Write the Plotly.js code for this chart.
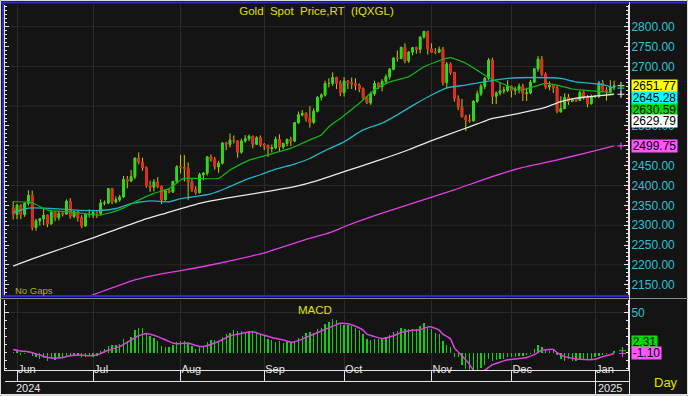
<!DOCTYPE html>
<html><head><meta charset="utf-8">
<script src="https://cdn.plot.ly/plotly-3.0.1.min.js"></script>
<style>html,body{margin:0;padding:0;background:#141414;overflow:hidden}</style>
</head><body><div id="chart" style="width:688px;height:396px"></div>
<script>
// ---------------- DATA ----------------
const firstDay = '2024-05-31', lastDay = '2025-01-08';
const monthNames = ['Jan','Feb','Mar','Apr','May','Jun','Jul','Aug','Sep','Oct','Nov','Dec'];

const open = [
2343,2327,2350,2327,2355,2375,2294,2311,2316,2325,
2303,2333,2319,2329,2328,2360,2322,2334,2319,2298,
2327,2326,2332,2330,2356,2356,2392,2359,2364,2371,
2415,2411,2422,2469,2459,2445,2400,2396,2409,2397,
2364,2387,2384,2410,2447,2446,2443,2409,2390,2382,
2427,2431,2472,2465,2447,2456,2507,2504,2514,2512,
2484,2512,2518,2524,2504,2520,2503,2500,2493,2495,
2516,2497,2506,2516,2512,2558,2578,2582,2569,2559,
2587,2622,2628,2657,2657,2672,2658,2634,2663,2659,
2656,2653,2644,2622,2608,2631,2657,2649,2662,2674,
2693,2721,2720,2748,2714,2736,2747,2743,2774,2788,
2744,2736,2736,2743,2659,2706,2685,2619,2598,2573,
2565,2563,2612,2631,2650,2670,2716,2625,2633,2638,
2640,2650,2640,2643,2650,2632,2633,2660,2694,2718,
2680,2648,2652,2646,2586,2594,2622,2612,2617,2614,
2634,2621,2606,2624,2625,2658,2640,2636,2648];
const high = [
2360,2354,2353,2358,2388,2387,2316,2318,2342,2327,
2336,2334,2336,2333,2365,2368,2336,2336,2325,2331,
2340,2339,2335,2365,2362,2393,2394,2372,2376,2424,
2424,2439,2469,2483,2470,2448,2412,2416,2421,2400,
2390,2392,2412,2451,2477,2477,2458,2419,2398,2432,
2434,2474,2478,2472,2462,2509,2510,2531,2526,2513,
2518,2527,2528,2525,2524,2526,2507,2503,2503,2523,
2529,2507,2518,2523,2560,2586,2590,2584,2600,2594,
2625,2632,2664,2670,2685,2674,2665,2673,2665,2672,
2670,2657,2647,2625,2636,2664,2660,2668,2680,2696,
2722,2740,2749,2758,2738,2749,2750,2775,2790,2790,
2758,2746,2750,2749,2711,2710,2686,2627,2618,2578,
2579,2615,2639,2656,2673,2721,2722,2637,2660,2649,
2665,2651,2649,2657,2656,2646,2666,2696,2726,2726,
2685,2662,2655,2653,2625,2632,2631,2620,2620,2639,
2638,2628,2629,2628,2663,2666,2648,2665,2664];
const low = [
2314,2315,2315,2321,2349,2287,2286,2299,2300,2295,
2302,2310,2312,2322,2327,2316,2318,2309,2293,2296,
2319,2318,2318,2324,2350,2353,2353,2355,2359,2369,
2393,2410,2416,2453,2437,2394,2384,2385,2393,2353,
2362,2380,2381,2405,2430,2410,2364,2384,2377,2380,
2413,2425,2460,2440,2432,2453,2489,2496,2506,2470,
2480,2508,2512,2494,2502,2497,2489,2472,2483,2491,
2485,2492,2499,2500,2509,2556,2574,2561,2546,2555,
2584,2614,2624,2647,2651,2643,2625,2624,2643,2643,
2640,2635,2615,2605,2603,2626,2643,2637,2656,2667,
2690,2712,2718,2708,2709,2728,2732,2733,2770,2730,
2734,2731,2734,2652,2644,2679,2611,2590,2572,2537,
2558,2561,2608,2625,2643,2666,2605,2605,2627,2631,
2635,2622,2628,2632,2613,2613,2630,2658,2687,2676,
2643,2640,2633,2582,2583,2592,2603,2610,2610,2613,
2616,2597,2604,2620,2620,2636,2614,2632,2640];
const close = [
2327,2350,2327,2355,2375,2294,2311,2316,2325,2303,
2333,2319,2329,2328,2360,2322,2334,2319,2298,2327,
2326,2332,2330,2356,2356,2392,2359,2364,2371,2415,
2411,2422,2469,2459,2445,2400,2396,2409,2397,2364,
2387,2384,2410,2447,2446,2443,2409,2390,2382,2427,
2431,2472,2465,2447,2456,2507,2504,2514,2512,2484,
2512,2518,2524,2504,2520,2503,2500,2493,2495,2516,
2497,2506,2516,2512,2558,2578,2582,2569,2559,2587,
2622,2628,2657,2657,2672,2658,2634,2663,2659,2656,
2653,2644,2622,2608,2631,2657,2649,2662,2674,2693,
2721,2720,2748,2714,2736,2747,2743,2774,2788,2744,
2736,2736,2743,2659,2706,2685,2619,2598,2573,2565,
2563,2612,2631,2650,2670,2716,2625,2633,2638,2640,
2650,2640,2643,2650,2632,2633,2660,2694,2718,2680,
2648,2652,2646,2586,2594,2622,2612,2617,2614,2634,
2621,2606,2624,2625,2658,2640,2636,2648,2651.77];

// moving averages (trading-day index, value)
const ma20Idx = [0,4,6,9,15,20,22,25,29,33,37,41,43,44,45,54,57,62,67,73,75,78,81,83,86,91,95,99,104,108,113,115,119,122,125,129,133,136,140,143,147,150,154,157,158];
const ma20 = [2359,2358,2352,2338,2333,2328,2325,2330,2343,2363,2380,2392,2406,2414,2418,2418,2439,2464,2477,2494,2502,2515,2527,2548,2569,2607,2641,2661,2674,2699,2718,2722,2708,2690,2672,2655,2640,2646,2657,2653,2643,2640,2637,2633,2630.59];
const ma50Idx = [0,4,8,12,18,23,27,31,36,41,44,47,52,56,61,65,69,74,78,82,87,92,97,101,106,110,114,119,123,130,137,144,148,155,158];
const ma50 = [2332,2343,2343,2341,2337,2337,2342,2354,2361,2359,2367,2371,2379,2393,2414,2427,2441,2454,2468,2488,2510,2540,2557,2578,2607,2628,2646,2653,2660,2670,2672,2670,2661,2654,2645.28];
const ma100Idx = [0,5,14,21,27,34,40,49,56,65,74,80,87,96,104,110,118,122,126,131,135,140,144,148,153,158];
const ma100 = [2197,2215,2245,2268,2289,2313,2330,2355,2368,2382,2397,2412,2435,2463,2490,2513,2541,2555,2569,2578,2586,2597,2611,2620,2625,2629.79];
const ma200Idx = [18,22,32,40,49,58,67,75,84,87,96,107,116,124,133,142,151,158];
const ma200 = [2114,2128,2162,2179,2194,2212,2233,2258,2284,2296,2327,2361,2389,2416,2443,2462,2483,2499.75];

// MACD (bars, one per trading day) and its signal line
const macd = [
1,2,-3,-2,1,-4,-6,-8,-7,-10,
-8,-9,-7,-8,-4,-3,-3,-4,-6,-5,
-4,-5,-4,2,4,8,10,9,11,17,
15,20,28,31,31,24,21,18,15,8,
7,7,10,13,14,15,12,8,5,8,
8,13,16,16,14,20,23,25,28,27,
27,25,27,27,24,22,21,17,16,13,
14,12,13,12,14,18,21,24,26,25,
29,31,36,38,42,41,36,35,34,33,
31,28,23,17.5,16,17,17,17.5,20,22,
26,27,31,30,30,29,29,33,37.5,31,
29,25,23,15,10,7.5,-6,-6,-15,-21,
-28,-30,-25,-19,-15,-8,-10,-9,-8,-7.5,
-6,-5.4,-5,-4,-4,-3,-2,4,9,7.5,
5,2,4,-3,-8,-10,-8,-10,-10,-9,
-8,-9,-7.5,-6,-4,-3,-2,0,2.31];
const sigIdx = [0,2,4,7,9,11,13,15,18,20,22,23,25,28,30,33,35,36,38,40,42,43,46,48,50,53,55,57,60,63,65,68,71,73,75,77,79,82,85,86,88,90,92,93,95,97,100,102,105,107,109,110,112,113,115,116,118,120,121,122,124,126,128,130,133,135,137,139,141,142,143,145,147,149,153,155,157,158];
const sig = [4,2,1,-3,-6,-7,-6,-4,-3,-4,-3,-1,3,7.5,13,21,24,23,20,16,12,11,12,9,7.5,12,16,21,24,26,23,19,15.8,13,15,19,23,29,35,36.6,36,33,28,23,20,17.5,21,25,28,28.6,32,32,28,23,17,6,-4,-15,-22,-26,-22,-15,-12,-9,-7.5,-6,-2.6,3,4,4,0,-5,-7,-8.4,-8.4,-5,-2.6,-1.1];
const macdLast = 2.31, sigLast = -1.10;

// price-axis labels visible in the reference (2600/2650 are hidden behind the value boxes)
const priceTicks = [2150,2200,2250,2300,2350,2400,2450,2500,2550,2700,2750,2800];
const priceGrid = [2200,2300,2400,2500,2600,2700,2800];

// ---------------- BUILD ----------------
function tradingDays(a,b){const out=[];const d=new Date(a+'T00:00:00Z');const e=new Date(b+'T00:00:00Z');
  while(d<=e){const w=d.getUTCDay();if(w!==0&&w!==6)out.push(d.toISOString().slice(0,10));d.setUTCDate(d.getUTCDate()+1);}return out;}
const dates = tradingDays(firstDay,lastDay);
const idx = dates.map((_,i)=>i);
const lastI = idx[idx.length-1];
const monthIdx=[], monthTxt=[];
dates.forEach((d,i)=>{ if(i>0 && d.slice(5,7)!==dates[i-1].slice(5,7)){monthIdx.push(i);monthTxt.push(monthNames[+d.slice(5,7)-1]);} });
const bodyHi = open.map((o,i)=>Math.max(o,close[i]));
const bodyLo = open.map((o,i)=>Math.min(o,close[i]));
const lastOf = a => a[a.length-1];

const W=688,H=396,ML=5,MR=60,MT=5,MB=26,PW=W-ML-MR,PH=H-MT-MB;
const px = x => (x-ML)/PW;
const py = y => (H-MB-y)/PH;
const FONT = 'Liberation Sans, Arial, sans-serif';
const BG='#141414', GRID='#2b2b2b', WHITE='#e6e6e6', BLUE='#2a2ad0';
const WICK='#c8c800', UP='#1ee01e', DOWN='#f02020';
const CG='#10b810', CC='#22b4c4', CW='#e8e8e8', CM='#e040e0', YEL='#e0e000';

const traces = [
 {type:'candlestick', x:idx, open:open, high:high, low:low, close:close, xaxis:'x', yaxis:'y',
  increasing:{line:{color:WICK,width:1},fillcolor:WICK}, decreasing:{line:{color:WICK,width:1},fillcolor:WICK},
  whiskerwidth:0, hoverinfo:'skip', showlegend:false},
 {type:'candlestick', x:idx, open:open, high:bodyHi, low:bodyLo, close:close, xaxis:'x', yaxis:'y',
  increasing:{line:{color:UP,width:1},fillcolor:UP}, decreasing:{line:{color:DOWN,width:1},fillcolor:DOWN},
  whiskerwidth:0, hoverinfo:'skip', showlegend:false},
 {type:'scatter', mode:'lines', x:ma200Idx, y:ma200, line:{color:CM,width:1.3,shape:'spline',smoothing:0.5}, hoverinfo:'skip', showlegend:false},
 {type:'scatter', mode:'lines', x:ma100Idx, y:ma100, line:{color:CW,width:1.3,shape:'spline',smoothing:0.5}, hoverinfo:'skip', showlegend:false},
 {type:'scatter', mode:'lines', x:ma50Idx, y:ma50, line:{color:CC,width:1.3,shape:'spline',smoothing:0.5}, hoverinfo:'skip', showlegend:false},
 {type:'scatter', mode:'lines', x:ma20Idx, y:ma20, line:{color:CG,width:1.2,shape:'spline',smoothing:0.5}, hoverinfo:'skip', showlegend:false},
 // small end-of-line markers next to the price axis
 {type:'scatter', mode:'markers', x:[lastI+1.8,lastI+1.8,lastI+1.8,lastI+1.8], y:[lastOf(close),lastOf(ma50),lastOf(ma100),lastOf(ma200)],
  marker:{symbol:'cross-thin',size:5,line:{width:1.2,color:['#e0e000',CC,CW,CM]}}, cliponaxis:false, hoverinfo:'skip', showlegend:false},
 {type:'bar', x:idx, y:macd, xaxis:'x', yaxis:'y2', width:0.35, marker:{color:'#10d010',line:{width:0}}, hoverinfo:'skip', showlegend:false},
 {type:'scatter', mode:'lines', x:sigIdx, y:sig, xaxis:'x', yaxis:'y2', line:{color:CM,width:1.5,shape:'spline',smoothing:0.5}, hoverinfo:'skip', showlegend:false},
 {type:'scatter', mode:'markers', x:[lastI+2.2,lastI+2.2], y:[macdLast,sigLast], xaxis:'x', yaxis:'y2',
  marker:{symbol:'cross-thin',size:5,line:{width:1.2,color:['#10d010',CM]}}, cliponaxis:false, hoverinfo:'skip', showlegend:false}
];

const shapes = [];
priceGrid.forEach(v=>shapes.push({type:'line',xref:'paper',x0:0,x1:1,yref:'y',y0:v,y1:v,line:{color:GRID,width:1},layer:'below'}));
const L=(x0,y0,x1,y1,c,w)=>shapes.push({type:'line',xref:'paper',yref:'paper',x0:px(x0),x1:px(x1),y0:py(y0),y1:py(y1),line:{color:c,width:w}});
L(0.5,0.5,687.5,0.5,'#d8d8d8',1); L(0.5,395.5,687.5,395.5,'#d8d8d8',1);
L(0.5,0.5,0.5,395.5,'#d8d8d8',1); L(687.5,0.5,687.5,395.5,'#d8d8d8',1);
L(1,2.5,687,2.5,BLUE,2); L(3,2,3,296,BLUE,2);
L(2,296,629,296,BLUE,2); L(0,298.5,688,298.5,'#8a8a8a',1);
L(629.5,2,629.5,394,WHITE,1);
L(5,381.5,629.5,381.5,WHITE,1); L(0,394.5,688,394.5,WHITE,1);
L(595.5,371,595.5,394,WHITE,1);

const ann = [];
const box=(yPx,txt,bg,w)=>ann.push({xref:'paper',yref:'paper',x:px(631),y:py(yPx),xanchor:'left',yanchor:'middle',
  text:txt,showarrow:false,bgcolor:bg,width:w,height:12,borderpad:0,font:{family:FONT,size:12,color:'#000'}});
box(85.5, lastOf(close).toFixed(2), '#ffff00', 45);
box(97.5, lastOf(ma50).toFixed(2), '#00ffff', 45);
box(109.5, lastOf(ma20).toFixed(2), '#00dd00', 45);
box(121.5, lastOf(ma100).toFixed(2), '#ffffff', 45);
box(146, lastOf(ma200).toFixed(2), '#ff55ff', 45);
box(341.5, macdLast.toFixed(2), '#00e000', 25);
box(353.3, sigLast.toFixed(2), '#ff55ff', 29);
const T=(x,y,txt,size,color,xa)=>ann.push({xref:'paper',yref:'paper',x:px(x),y:py(y),xanchor:xa||'left',yanchor:'middle',text:txt,showarrow:false,font:{family:FONT,size:size,color:color}});
T(13,290,'No\u00a0Gaps',9.5,'#b4b400');
T(315,310,'MACD',11.5,YEL,'center');
T(14,388,'2024',11,WHITE);
T(596,388,'2025',11,WHITE);
T(666,382,'Day',13,YEL,'center');

const layout = {
 width:W, height:H, margin:{l:ML,r:MR,t:MT,b:MB,pad:0},
 paper_bgcolor:BG, plot_bgcolor:BG, showlegend:false, boxgap:0.42, bargap:0,
 font:{family:FONT,color:WHITE},
 title:{text:'Gold\u00a0\u00a0Spot\u00a0\u00a0Price,RT\u00a0\u00a0(IQXGL)', font:{family:FONT,size:11.5,color:YEL},
   xref:'container', x:316.5/W, xanchor:'center', yref:'container', y:1-11/H, yanchor:'middle'},
 xaxis:{range:[-2.156,161.65], anchor:'y2', tickmode:'array', tickvals:monthIdx, ticktext:monthTxt,
   ticks:'outside', ticklen:10, tickcolor:WHITE, tickwidth:1, showline:true, linecolor:WHITE, linewidth:1,
   showgrid:true, gridcolor:GRID, gridwidth:1, zeroline:false, rangeslider:{visible:false},
   tickfont:{family:FONT,size:11,color:WHITE}, ticklabelposition:'outside right', ticklabelstandoff:-11, fixedrange:true},
 yaxis:{domain:[py(295.7),1], range:[2122.3,2854.7], side:'right', tickmode:'array', tickvals:priceTicks,
   ticktext:priceTicks.map(v=>v.toFixed(2)), tickfont:{family:FONT,size:12,color:'#2ac3d3'},
   ticks:'inside', ticklen:4, tickcolor:WHITE, showline:true, linecolor:WHITE, linewidth:1, mirror:'ticks',
   showgrid:false, zeroline:false, minor:{dtick:10, ticks:'inside', ticklen:2, tickcolor:WHITE, showgrid:false}, fixedrange:true},
 yaxis2:{domain:[0,py(300)], range:[-21.75,65.75], side:'right', tickmode:'array', tickvals:[50], ticktext:['50'],
   tickfont:{family:FONT,size:12,color:'#2ac3d3'}, ticks:'inside', ticklen:4, tickcolor:WHITE,
   showline:true, linecolor:WHITE, linewidth:1, mirror:'ticks', showgrid:true, gridcolor:GRID, zeroline:false,
   minor:{dtick:10, ticks:'inside', ticklen:2, tickcolor:WHITE, showgrid:false}, fixedrange:true},
 shapes:shapes, annotations:ann
};
Plotly.newPlot('chart', traces, layout, {staticPlot:true, displayModeBar:false});
</script></body></html>
